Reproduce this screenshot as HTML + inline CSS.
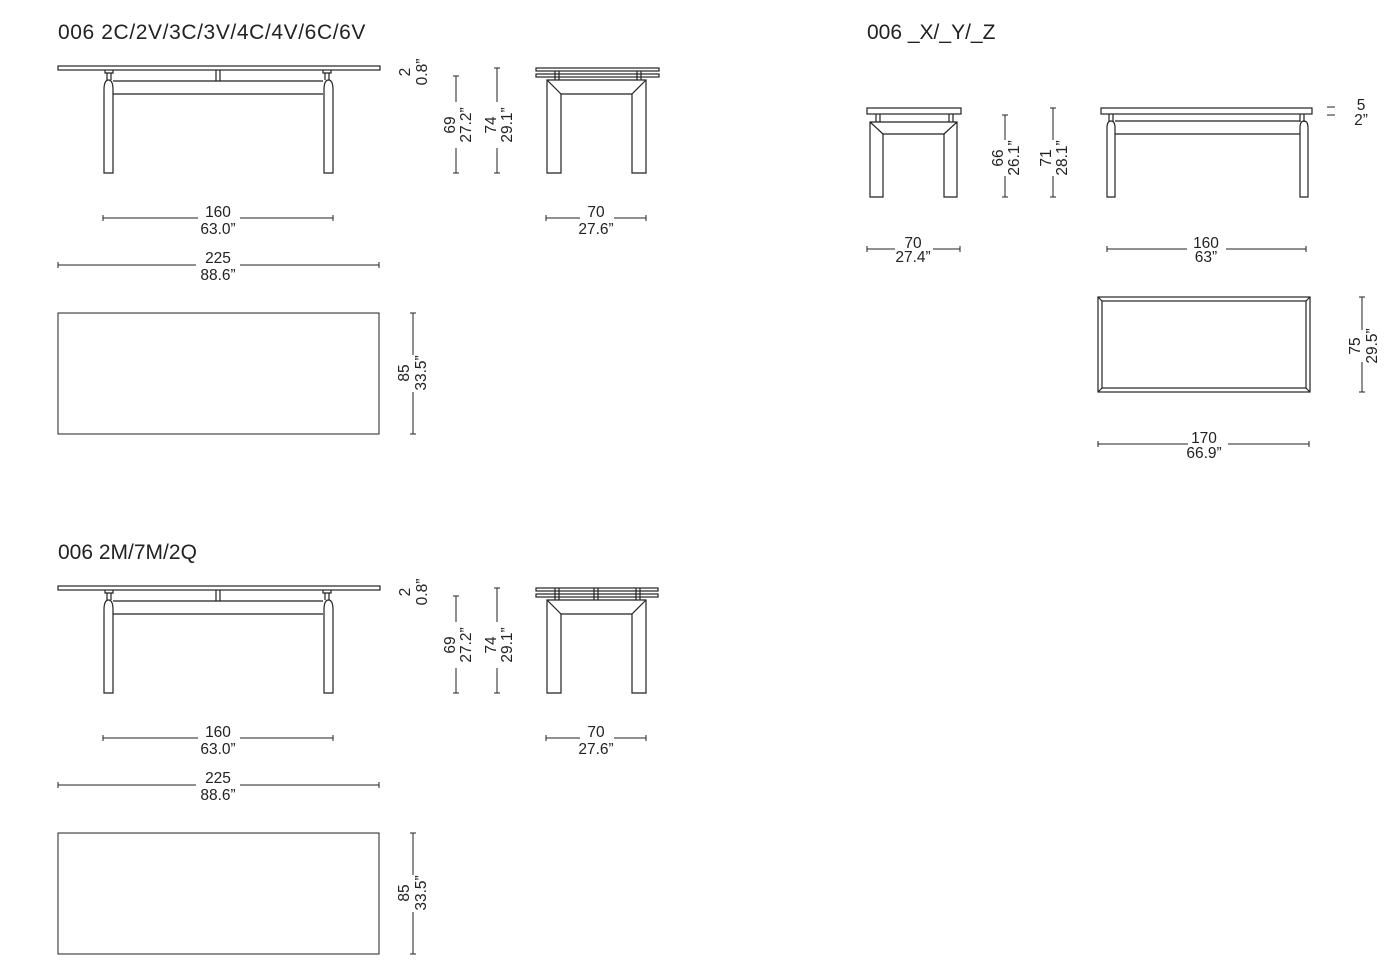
<!DOCTYPE html>
<html><head><meta charset="utf-8"><style>
html,body{margin:0;padding:0;background:#fff;}
svg{display:block;}
text{font-family:"Liberation Sans",sans-serif;fill:#222;}
.t{font-size:21px;}
.d{font-size:15.5px;}
</style></head><body>
<svg width="1390" height="976" viewBox="0 0 1390 976" xmlns="http://www.w3.org/2000/svg">
<defs>
<g id="front" fill="none" stroke="#222" stroke-width="1.2">
  <rect x="58" y="66" width="322" height="4"/>
  <path d="M105 70 v3 h8 v-3 M107 73 v7 M111 73 v7"/>
  <path d="M323 70 v3 h8 v-3 M325 73 v7 M329 73 v7"/>
  <path d="M216 70 v11 M220 70 v11"/>
  <path d="M113 81 H323 M113 94 H323"/>
  <path d="M104 173 V90 Q104 80 108.5 80 Q113 80 113 90 V173 Z"/>
  <path d="M324 173 V90 Q324 80 328.5 80 Q333 80 333 90 V173 Z"/>
</g>
<g id="side" fill="none" stroke="#222" stroke-width="1.2">
  <rect x="536" y="68" width="123" height="3"/>
  <rect x="536" y="74" width="123" height="3"/>
  <path d="M555 71 v9 M559 71 v9 M637 71 v9 M641 71 v9"/>
  <path d="M547 80 H646 V173 H632 V94 H561 V173 H547 Z"/>
  <path d="M547 80 L561 94 M646 80 L632 94"/>
</g>
<g id="dims">
  <g stroke="#222" stroke-width="1" fill="none">
    <path d="M103 218 H198 M240 218 H333 M103 215 v6 M333 215 v6"/>
    <path d="M58 265 H196 M240 265 H379 M58 262 v6 M379 262 v6"/>
    <path d="M546 218 H580 M614 218 H646 M546 215 v6 M646 215 v6"/>
    <path d="M456 76 V102 M456 148 V173 M453 76 h6 M453 173 h6"/>
    <path d="M497 68 V102 M497 148 V173 M494 68 h6 M494 173 h6"/>
    <path d="M413 313 V355 M413 392 V434 M410 313 h6 M410 434 h6"/>
    <rect x="58" y="313" width="321" height="121"/>
  </g>
  <g class="d" text-anchor="middle">
    <text x="218" y="217">160</text><text x="218" y="234">63.0”</text>
    <text x="218" y="263">225</text><text x="218" y="280">88.6”</text>
    <text x="596" y="217">70</text><text x="596" y="234">27.6”</text>
    <text transform="translate(410,72) rotate(-90)">2</text>
    <text transform="translate(427,72) rotate(-90)">0.8”</text>
    <text transform="translate(455,125) rotate(-90)">69</text>
    <text transform="translate(471,125) rotate(-90)">27.2”</text>
    <text transform="translate(496,125) rotate(-90)">74</text>
    <text transform="translate(512,125) rotate(-90)">29.1”</text>
    <text transform="translate(409,373) rotate(-90)">85</text>
    <text transform="translate(426,373) rotate(-90)">33.5”</text>
  </g>
</g>
</defs>

<text class="t" x="58" y="39" style="letter-spacing:0.6px">006 2C/2V/3C/3V/4C/4V/6C/6V</text>
<use href="#front"/><use href="#side"/><use href="#dims"/>

<text class="t" x="58" y="559">006 2M/7M/2Q</text>
<g transform="translate(0,520)"><use href="#front"/><use href="#dims"/></g>
<g fill="none" stroke="#222" stroke-width="1.2">
  <rect x="536" y="588" width="122" height="3"/>
  <rect x="536" y="594" width="122" height="3"/>
  <path d="M555 588 v12 M559 588 v12 M594 588 v12 M598 588 v12 M636 588 v12 M640 588 v12"/>
  <path d="M547 600 H646 V693 H632 V614 H561 V693 H547 Z"/>
  <path d="M547 600 L561 614 M646 600 L632 614"/>
</g>

<text class="t" x="867" y="39">006 _X/_Y/_Z</text>
<g fill="none" stroke="#222" stroke-width="1.2">
  <rect x="867" y="108" width="94" height="6"/>
  <path d="M876 114 v8 M880 114 v8 M949 114 v8 M953 114 v8"/>
  <path d="M870 122 H957 V197 H944 V134 H883 V197 H870 Z"/>
  <path d="M870 122 L883 134 M957 122 L944 134"/>
  <rect x="1101" y="108" width="211" height="6"/>
  <path d="M1109 114 v8 M1113 114 v8 M1300 114 v8 M1304 114 v8"/>
  <path d="M1115 121 H1300 M1115 134 H1300"/>
  <path d="M1107 197 V128 Q1107 121 1111 121 Q1115 121 1115 128 V197 Z"/>
  <path d="M1300 197 V128 Q1300 121 1304 121 Q1308 121 1308 128 V197 Z"/>
  <rect x="1098" y="297" width="212" height="95"/>
  <rect x="1102" y="301" width="204" height="87"/>
  <path d="M1098 297 L1102 301 M1310 297 L1306 301 M1098 392 L1102 388 M1310 392 L1306 388"/>
</g>
<g stroke="#222" stroke-width="1" fill="none">
  <path d="M1005 115 V140 M1005 176 V197 M1002 115 h6 M1002 197 h6"/>
  <path d="M1053 108 V140 M1053 176 V197 M1050 108 h6 M1050 197 h6"/>
  <path d="M867 249 H895 M933 249 H960 M867 246 v6 M960 246 v6"/>
  <path d="M1107 249 H1187 M1226 249 H1306 M1107 246 v6 M1306 246 v6"/>
  <path d="M1098 444 H1188 M1228 444 H1309 M1098 441 v6 M1309 441 v6"/>
  <path d="M1362 297 V330 M1362 362 V392 M1359 297 h6 M1359 392 h6"/>
  <path d="M1327 107 h8 M1327 115 h8"/>
</g>
<g class="d" text-anchor="middle">
  <text x="913" y="248">70</text><text x="913" y="262">27.4”</text>
  <text x="1206" y="248">160</text><text x="1206" y="262">63”</text>
  <text x="1204" y="443">170</text><text x="1204" y="458">66.9”</text>
  <text x="1361" y="110">5</text><text x="1361" y="125">2”</text>
  <text transform="translate(1003,158) rotate(-90)">66</text>
  <text transform="translate(1019,158) rotate(-90)">26.1”</text>
  <text transform="translate(1051,158) rotate(-90)">71</text>
  <text transform="translate(1067,158) rotate(-90)">28.1”</text>
  <text transform="translate(1360,346) rotate(-90)">75</text>
  <text transform="translate(1377,346) rotate(-90)">29.5”</text>
</g>
</svg>
</body></html>
